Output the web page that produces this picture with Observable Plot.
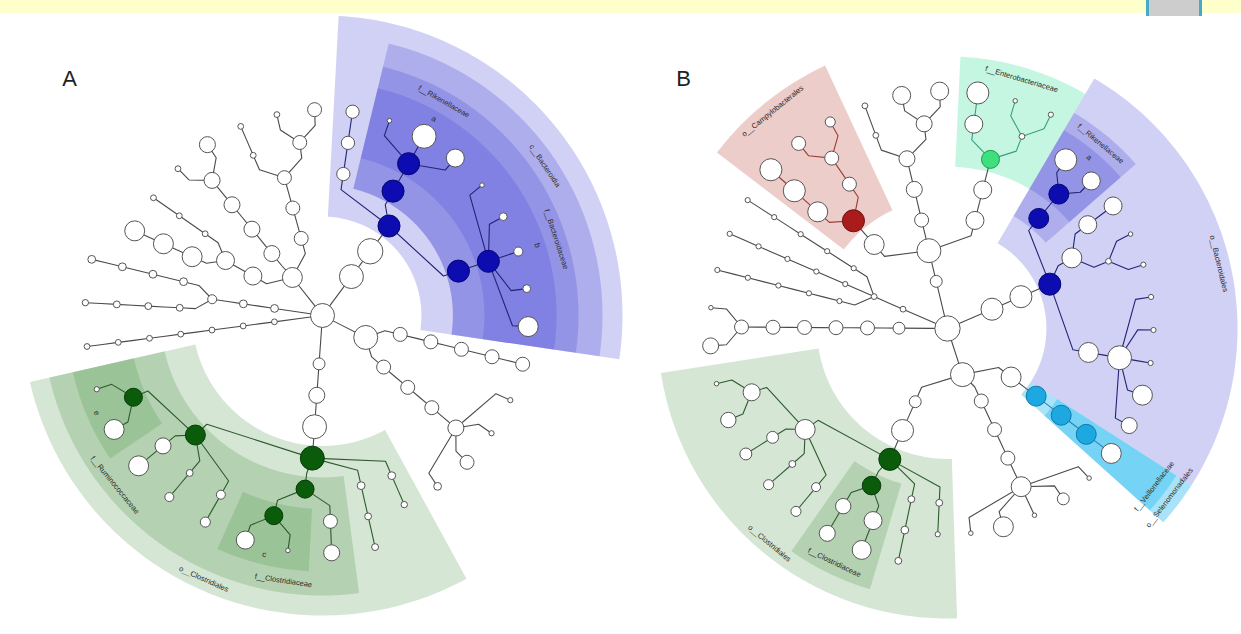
<!DOCTYPE html>
<html><head><meta charset="utf-8">
<script src="https://cdn.jsdelivr.net/npm/d3@7"></script>
<script src="https://cdn.jsdelivr.net/npm/@observablehq/plot@0.6"></script>
<style>
html,body{margin:0;padding:0;background:#fff;width:1241px;height:634px;overflow:hidden;font-family:"Liberation Sans",Arial,sans-serif}
#bar{position:relative;height:13px;background:#ffffcc}
#tab{position:absolute;left:1146px;top:0;width:50px;height:16px;background:#cdcdcd;border-left:3px solid #45aac8;border-right:3px solid #45aac8}
</style></head><body>
<div id="bar"><div id="tab"></div></div>
<div id="chart"></div>
<script>
// ---- Panel A taxonomy: [id, parent, relative abundance, biomarker group]
const treeA = [
 ["A0",null,85,""],
 ["pA1","A0",5,""],["cA1","pA1",5,""],["oA1","cA1",5,""],["fA1","oA1",5,""],["gA1","fA1",5,""],["sA1","gA1",5,""],["tA1","sA1",5,""],
 ["pA2","A0",9,""],["cA2","pA2",9,""],["oA2","cA2",12,""],
 ["fA2a","oA2",7,""],["gA2a","fA2a",7,""],["sA2a","gA2a",7,""],["tA2a","sA2a",6,""],
 ["fA2b","oA2",9,""],["gA2b","fA2b",9,""],["sA2b","gA2b",9,""],["tA2b","sA2b",9,""],
 ["pA3","A0",59,""],["cA3a","pA3",48,""],["oA3a","cA3a",48,""],
 ["fA3a","oA3a",59,""],["gA3a","fA3a",59,""],["sA3a","gA3a",59,""],
 ["fA3b","oA3a",5,""],["gA3b","fA3b",5,""],["sA3b","gA3b",5,""],
 ["cA3c","pA3",38,""],["oA3c","cA3c",38,""],["fA3c","oA3c",38,""],["gA3c","fA3c",38,""],["sA3c1","gA3c",5,""],["sA3c2","gA3c",38,""],
 ["cA3d","pA3",29,""],["oA3d","cA3d",29,""],["fA3d","oA3d",29,""],["gA3d1","fA3d",5,""],["sA3d1","gA3d1",5,""],
 ["gA3d2","fA3d",29,""],["sA3d2a","gA3d2",5,""],["sA3d2b","gA3d2",29,""],
 ["pB","A0",85,""],["cB","pB",95,""],["oB","cB",72,"blue"],
 ["fPor","oB",26,""],["gPor","fPor",26,""],["sPor","gPor",26,""],
 ["fRik","oB",72,"blue"],["gAli","fRik",72,"blue"],["sAli1","gAli",3,""],["sAli2","gAli",85,""],["sAli3","gAli",48,""],
 ["fBac","oB",72,"blue"],["gBac","fBac",72,"blue"],["sBac1","gBac",3,""],["sBac2","gBac",9,""],["sBac3","gBac",12,""],["sBac4","gBac",9,""],["sBac5","gBac",59,""],
 ["pP","A0",85,""],["cPa","pP",29,""],["oPa","cPa",29,""],["fPa","oPa",29,""],["gPa","fPa",29,""],["sPa","gPa",29,""],
 ["cPb","pP",29,""],["oPb","cPb",29,""],["fPb","oPb",29,""],["gPb","fPb",38,""],
 ["sPb1","gPb",4,""],["sPb2","gPb",4,""],["sPb3","gPb",29,""],["sPb4","gPb",9,""],
 ["pF","A0",21,""],["cF","pF",38,""],["xF","cF",85,""],["oClo","xF",85,"green"],
 ["fL1","oClo",9,""],["gL1","fL1",6,""],
 ["fL2","oClo",9,""],["gL2","fL2",7,""],["sL2","gL2",7,""],
 ["fClo","oClo",48,"green"],["gCl1","fClo",29,""],["sCl1","gCl1",38,""],
 ["gC","fClo",48,"green"],["sC1","gC",3,""],["sC2","gC",48,""],
 ["fRum","oClo",59,"green"],["gR1","fRum",12,""],["sR1","gR1",15,""],["gR2","fRum",7,""],["sR2","gR2",12,""],
 ["gR3","fRum",38,""],["sR3","gR3",59,""],["gE","fRum",48,"green"],["sE1","gE",59,""],["sE2","gE",4,""]
];
// ---- Panel B taxonomy
const treeB = [
 ["B0",null,95,""],
 ["pL1","B0",21,""],["cL1","pL1",29,""],["oL1","cL1",29,""],["fL1","oL1",29,""],["gL1","fL1",29,""],["hL1","gL1",29,""],["sL1a","hL1",38,""],["sL1b","hL1",3,""],
 ["pL2","B0",5,""],["cL2","pL2",5,""],
 ["oL2a","cL2",4,""],["fL2a","oL2a",4,""],["gL2a","fL2a",4,""],["sL2a","gL2a",4,""],["tL2a","sL2a",4,""],
 ["oL2b","cL2",4,""],["fL2b","oL2b",4,""],["gL2b","fL2b",4,""],["sL2b","gL2b",4,""],["tL2b","sL2b",4,""],
 ["oL2c","cL2",4,""],["fL2c","oL2c",4,""],["gL2c","fL2c",4,""],["sL2c","gL2c",4,""],["tL2c","sL2c",4,""],
 ["pU","B0",21,""],["cU","pU",85,""],
 ["xR","cU",59,""],["oCampy","xR",72,"red"],["fR1","oCampy",59,""],["gR1","fR1",72,""],["sR1","gR1",72,""],
 ["fR2","oCampy",29,""],["gR2","fR2",29,""],["sR2a","gR2",29,""],["sR2b","gR2",15,""],
 ["xT","cU",29,""],["oT","xT",38,""],["fT","oT",38,""],["gT1","fT",5,""],["sT1","gT1",5,""],
 ["gT2","fT",38,""],["sT2a","gT2",48,""],["sT2b","gT2",48,""],
 ["xM","cU",48,""],["oM","xM",48,""],["fEntero","oM",48,"mint"],["gM1","fEntero",48,""],["sM1","gM1",72,""],
 ["gM2","fEntero",5,""],["sM2a","gM2",3,""],["sM2b","gM2",4,""],
 ["pBt","B0",72,""],["cBt","pBt",72,""],["oBact","cBt",72,"blue"],
 ["fRik","oBact",59,"blue"],["gRik","fRik",59,"blue"],["sRik1","gRik",72,""],["sRik2","gRik",48,""],
 ["fW","oBact",59,""],["gW1","fW",48,""],["sW1","gW1",48,""],["gW2","fW",5,""],["sW2a","gW2",3,""],["sW2b","gW2",4,""],
 ["fV","oBact",59,""],["gV","fV",85,""],["sV1","gV",4,""],["sV2","gV",4,""],["sV3","gV",4,""],["sV4","gV",59,""],["sV5","gV",38,""],
 ["pD","B0",85,""],
 ["cCy","pD",59,""],["oSel","cCy",59,"cyan"],["fVei","oSel",59,"cyan"],["gVei","fVei",59,"cyan"],["sVei","gVei",59,""],
 ["cBot","pD",29,""],["oBot","cBot",29,""],["fBot","oBot",29,""],["gBot","fBot",59,""],
 ["sBot1","gBot",3,""],["sBot2","gBot",21,""],["sBot3","gBot",3,""],["sBot4","gBot",59,""],["sBot5","gBot",3,""],
 ["cFir","pD",21,""],["xFir","cFir",72,""],["oClo","xFir",72,"green"],
 ["fX1","oClo",7,""],["sX1","fX1",4,""],
 ["fX2","oClo",7,""],["gX2","fX2",9,""],["sX2","gX2",7,""],
 ["fClo","oClo",51,"green"],["gCl1","fClo",48,""],["sCl1","gCl1",53,""],["gCl2","fClo",35,""],["sCl2","gCl2",38,""],
 ["fY","oClo",59,""],["gY1","fY",12,""],["sY1","gY1",15,""],["gY2","fY",7,""],["sY2","gY2",15,""],
 ["gY3","fY",21,""],["sY3","gY3",21,""],["gY4","fY",43,""],["sY4","gY4",35,""],["sY5","gY4",3,""]
];
// ---- highlighted clades: [first clade, last clade, label, band level, group]
const wedgesA = [
 ["oB","oB","",0,"blue"],
 ["fRik","fBac","c__Bacteroidia",1,"blue"],
 ["fRik","fRik","f__Rikenellaceae",2,"blue"],
 ["fBac","fBac","f__Bacteroidaceae",2,"blue"],
 ["gAli","gAli","a",3,"blue"],
 ["gBac","gBac","b",3,"blue"],
 ["oClo","oClo","o__Clostridiales",0,"green"],
 ["fRum","fRum","f__Ruminococcaceae",1,"green"],
 ["fClo","fClo","f__Clostridiaceae",1,"green"],
 ["gE","gE","e",2,"green"],
 ["gC","gC","c",2,"green"]
];
const wedgesB = [
 ["oCampy","oCampy","o__Campylobacterales",0,"red"],
 ["fEntero","fEntero","f__Enterobacteriaceae",1,"mint"],
 ["oBact","oBact","o__Bacteroidales",0,"blue"],
 ["fRik","fRik","f__Rikenellaceae",2,"blue"],
 ["gRik","gRik","a",3,"blue"],
 ["oSel","oSel","o__Selenomonadales",0,"cyan"],
 ["fVei","fVei","f__Veillonellaceae",1,"cyan"],
 ["oClo","oClo","o__Clostridiales",0,"green"],
 ["fClo","fClo","f__Clostridiaceae",1,"green"]
];
const panelTitles = ["A","B"];

// ---- styles & layout
const FILL = {blue:"#4646d6", green:"#3f8f3a", red:"#dc9c94", mint:"#5be6ae", cyan:"#2fbdf0"};
const FILL_OP = {blue:0.25, green:0.22, red:0.5, mint:0.36, cyan:0.42};
const NODE = {blue:"#0c0cb0", green:"#0a5c0a", red:"#aa1c1c", mint:"#3ee07e", cyan:"#1ea8e2"};
const NODE_ST = {blue:"#060670", green:"#063a06", red:"#6a1010", mint:"#1f9a50", cyan:"#1278a8"};
const EDGE = {blue:"#232378", green:"#2d5a2d", red:"#9c3a3a", mint:"#3a9f7e", cyan:"#2585b5", "":"#4a4a4a"};
const STEP = 31.5, R0 = 17;
const W = 1241, H = 621, TOP = 13;
const panels = [
 {rows: treeA, wedges: wedgesA, cx: 322, cy: 315, first: 262.5, tx: 69, ty: 78,
  outer: [300, 280, 256, 234], labr: [289, 268, 246, 226]},
 {rows: treeB, wedges: wedgesB, cx: 947, cy: 328, first: 265.8, tx: 683, ty: 78,
  outer: [290, 272, 250, 230], labr: [279, 260, 240, 222]}
];
const rad = d => d === 0 ? 0 : R0 + STEP * d;

const wedgePolys = [], edges = [], nodes = [], labels = [], letters = [], titles = [];
panels.forEach((pn, pi) => {
  const P = (r, a) => [pn.cx + r * Math.sin(a * Math.PI / 180), pn.cy - r * Math.cos(a * Math.PI / 180)];
  const root = d3.stratify().id(d => d[0]).parentId(d => d[1])(pn.rows);
  const nLeaves = root.leaves().length;
  const half = 360 / (2 * nLeaves);
  d3.cluster().size([360, 1]).separation(() => 1)(root);
  const start = pn.first - half;
  const byId = new Map();
  root.each(n => {
    n.ang = start + n.x; n.r = rad(n.depth);
    [n.px, n.py] = P(n.r, n.ang);
    n.clade = n.data[3] || (n.parent ? n.parent.clade : "");
    byId.set(n.id, n);
  });
  root.each(n => {
    if (!n.parent) return;
    const p = n.parent, id = pi + ":" + n.id;
    const k = P(p.r + 0.5 * STEP, n.ang);
    const col = EDGE[p.clade];
    edges.push({id, x: p.px, y: p.py, color: col});
    edges.push({id, x: k[0], y: k[1], color: col});
    edges.push({id, x: n.px, y: n.py, color: col});
  });
  root.each(n => {
    const g = n.data[3];
    nodes.push({x: n.px, y: n.py, v: n.data[2], fill: g ? NODE[g] : "#ffffff", stroke: g ? NODE_ST[g] : "#555555"});
  });
  pn.wedges.forEach(w => {
    const a = byId.get(w[0]), b = byId.get(w[1]);
    const lv = a.leaves().concat(b.leaves()).map(l => l.ang);
    const a0 = d3.min(lv) - half, a1 = d3.max(lv) + half;
    const r0 = rad(Math.min(a.depth, b.depth)) - 0.4 * STEP, r1 = pn.outer[w[3]];
    const pts = [], n = Math.ceil(a1 - a0);
    for (let i = 0; i <= n; i++) { const q = P(r1, a0 + (a1 - a0) * i / n); pts.push({x: q[0], y: q[1]}); }
    for (let i = n; i >= 0; i--) { const q = P(r0, a0 + (a1 - a0) * i / n); pts.push({x: q[0], y: q[1]}); }
    wedgePolys.push({pts, group: w[4]});
    if (w[2]) {
      const am = (a0 + a1) / 2, q = P(pn.labr[w[3]], am);
      const aa = ((am % 360) + 360) % 360;
      let rot = (aa > 100 && aa < 260) ? aa - 180 : aa;
      if (rot > 180) rot -= 360;
      (w[2].length > 1 ? labels : letters).push({x: q[0], y: q[1], text: w[2], rot});
    }
  });
  titles.push({x: pn.tx, y: pn.ty, text: panelTitles[pi]});
});

const marks = wedgePolys.map(w => Plot.line(w.pts, {x: "x", y: "y", fill: FILL[w.group], fillOpacity: FILL_OP[w.group], stroke: "none", curve: "linear-closed"}));
marks.push(Plot.line(edges, {x: "x", y: "y", z: "id", stroke: "color", strokeWidth: 1.1}));
marks.push(Plot.dot(nodes, {x: "x", y: "y", r: "v", fill: "fill", stroke: "stroke", strokeWidth: 1}));
marks.push(Plot.text(labels, {x: "x", y: "y", text: "text", rotate: "rot", fontSize: 7.5, fill: "#2a2a2a"}));
marks.push(Plot.text(letters, {x: "x", y: "y", text: "text", rotate: "rot", fontSize: 8, fill: "#2a2a2a"}));
marks.push(Plot.text(titles, {x: "x", y: "y", text: "text", fontSize: 22, fill: "#222"}));

const chart = Plot.plot({
  width: W, height: H, margin: 0,
  x: {domain: [0, W], range: [0, W], axis: null},
  y: {domain: [TOP, TOP + H], range: [0, H], axis: null},
  r: {type: "sqrt", domain: [0, 100], range: [0, 13]},
  color: {type: "identity"},
  style: {background: "white", fontFamily: "Liberation Sans, Arial, sans-serif"},
  marks
});
document.getElementById("chart").appendChild(chart);
</script></body></html>
